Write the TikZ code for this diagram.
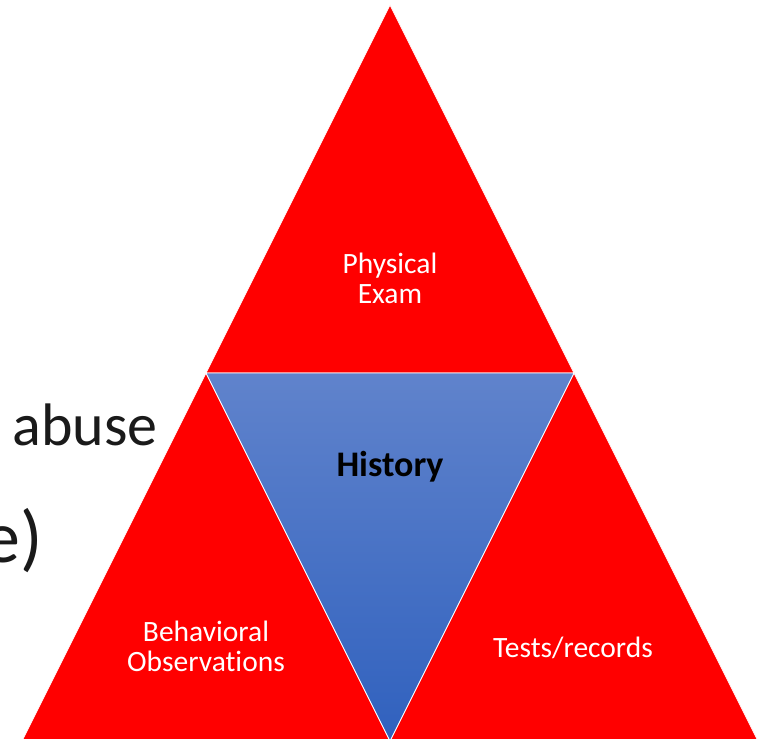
\documentclass[tikz,border=0pt]{standalone}
\usepackage{fontspec}
\setmainfont{Carlito}[Ligatures=NoCommon]

\definecolor{slidered}{RGB}{255,0,0}
\definecolor{histtop}{RGB}{96,131,204}
\definecolor{histbot}{RGB}{48,97,190}
\definecolor{slidetext}{RGB}{26,26,26}

\tikzset{
  piece/.style={fill=slidered, draw=white, line width=0.8pt},
  redlabel/.style={text=white, align=center, inner sep=0pt,
    font=\fontsize{29.5}{30}\selectfont},
  behind/.style={text=slidetext, inner sep=0pt},
}

\begin{document}
\begin{tikzpicture}[x=1pt,y=-1pt]
  \fill[white] (0,0) rectangle (767,738);
  \useasboundingbox (0,0) rectangle (767,738);

  % corners of the big triangle and its midpoints
  \coordinate (apex) at (390,5);
  \coordinate (left) at (22,741);
  \coordinate (right) at (758,741);
  \coordinate (midl) at (206,373);
  \coordinate (midr) at (574,373);
  \coordinate (midb) at (390,741);

  % text of the slide behind
  \node[behind, anchor=base east, font=\fontsize{60}{60}\selectfont] (abuse) at (158,445) {abuse};
  \node[behind, anchor=base east, font=\fontsize{74}{74}\selectfont] (paren) at (43,562) {e)};

  \draw[piece] (apex) -- (midl) -- (midr) -- cycle;
  \draw[piece] (midl) -- (left) -- (midb) -- cycle;
  \draw[piece] (midr) -- (midb) -- (right) -- cycle;
  \draw[draw=white, line width=0.8pt, top color=histtop, bottom color=histbot]
    (midl) -- (midr) -- (midb) -- cycle;

  \node[redlabel] (exam) at (390,278) {Physical\\Exam};
  \node[inner sep=0pt, font=\fontsize{36}{38}\selectfont\bfseries] (history) at (390,467) {History};
  \node[redlabel] (behav) at (206,646) {Behavioral\\Observations};
  \node[redlabel] (tests) at (573,648) {Tests/records};
\end{tikzpicture}
\end{document}
